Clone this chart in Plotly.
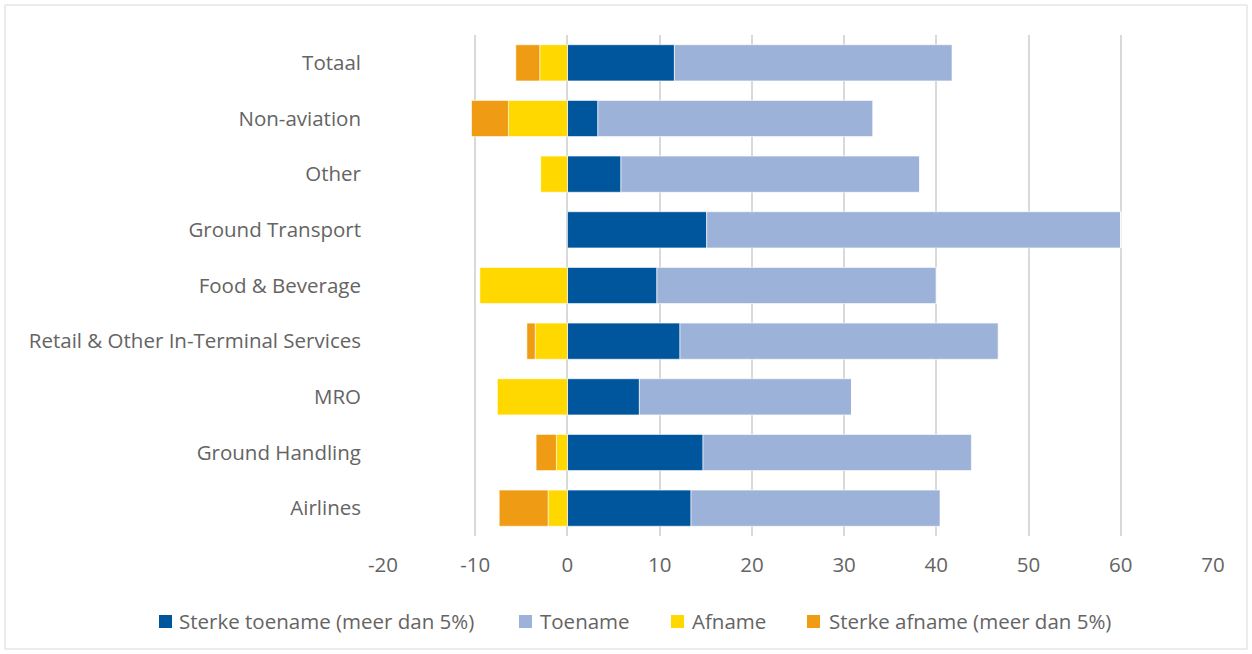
import plotly.graph_objects as go

categories = ["Totaal", "Non-aviation", "Other", "Ground Transport", "Food & Beverage",
              "Retail & Other In-Terminal Services", "MRO", "Ground Handling", "Airlines"]
sterke_toename = [11.6, 3.3, 5.8, 15.1, 9.7, 12.2, 7.8, 14.7, 13.4]
toename = [30.1, 29.8, 32.4, 44.9, 30.3, 34.5, 23.0, 29.1, 27.0]
afname = [-3.0, -6.4, -2.9, 0, -9.5, -3.5, -7.6, -1.2, -2.1]
sterke_afname = [-2.6, -4.0, 0, 0, 0, -0.9, 0, -2.2, -5.3]
x_ticks = [-20, -10, 0, 10, 20, 30, 40, 50, 60, 70]
x_ticktext = ["-20", "-10", "0", "10", "20", "30", "40", "50", "60", "70"]

series_names = ["Sterke toename (meer dan 5%)", "Toename", "Afname",
                "Sterke afname (meer dan 5%)"]
series_colors = ["#00569d", "#9db2d8", "#ffd800", "#ef9b14"]
series_values = [sterke_toename, toename, afname, sterke_afname]

W, H = 1252, 654
ML, MR, MT, MB = 383, 39, 35, 118
PW, PH = W - ML - MR, H - MT - MB


def px_x(px):
    return (px - ML) / PW


def px_y(py):
    return (H - MB - py) / PH


fig = go.Figure()
for name, vals, color in zip(series_names, series_values, series_colors):
    fig.add_trace(go.Bar(
        y=categories, x=vals, name=name, orientation="h",
        marker=dict(color=color, line=dict(color="rgba(255,255,255,0.6)", width=1)),
    ))

font = dict(family="Open Sans, Segoe UI, sans-serif", size=20.5, color="#646464")

# legend drawn as swatches + labels in one row below the axis
legend_swatch_x = [159, 519, 671, 807]
legend_text_x = [177, 538, 690, 827]
shapes = []
annotations = []
for sx, tx, name, color in zip(legend_swatch_x, legend_text_x, series_names, series_colors):
    shapes.append(dict(type="rect", xref="paper", yref="paper",
                       x0=px_x(sx), x1=px_x(sx + 13), y0=px_y(628), y1=px_y(615),
                       fillcolor=color, line=dict(width=0)))
    annotations.append(dict(xref="paper", yref="paper", x=px_x(tx), y=px_y(621),
                            xanchor="left", yanchor="middle", text=name,
                            showarrow=False, font=font))

# outer chart frame
shapes.append(dict(type="rect", xref="paper", yref="paper",
                   x0=px_x(5), x1=px_x(1247), y0=px_y(649), y1=px_y(5),
                   line=dict(color="#d9d9d9", width=1), fillcolor="rgba(0,0,0,0)",
                   layer="below"))

fig.update_layout(
    barmode="relative",
    bargap=0.35,
    width=W, height=H,
    margin=dict(l=ML, r=MR, t=MT, b=MB, autoexpand=False),
    paper_bgcolor="white", plot_bgcolor="white",
    font=font,
    showlegend=False,
    xaxis=dict(range=[-20, 70], tickvals=x_ticks, ticktext=x_ticktext, showgrid=True,
               gridcolor="#d9d9d9", gridwidth=2, zeroline=True, zerolinecolor="#d9d9d9",
               zerolinewidth=2, showline=False, ticks="", tickfont=font,
               ticklabelstandoff=14, automargin=False),
    yaxis=dict(categoryorder="array", categoryarray=categories[::-1], showgrid=False,
               zeroline=False, showline=False, ticks="", tickfont=font,
               ticklabelstandoff=21, automargin=False),
    shapes=shapes,
    annotations=annotations,
)

fig.write_html("out.html")
